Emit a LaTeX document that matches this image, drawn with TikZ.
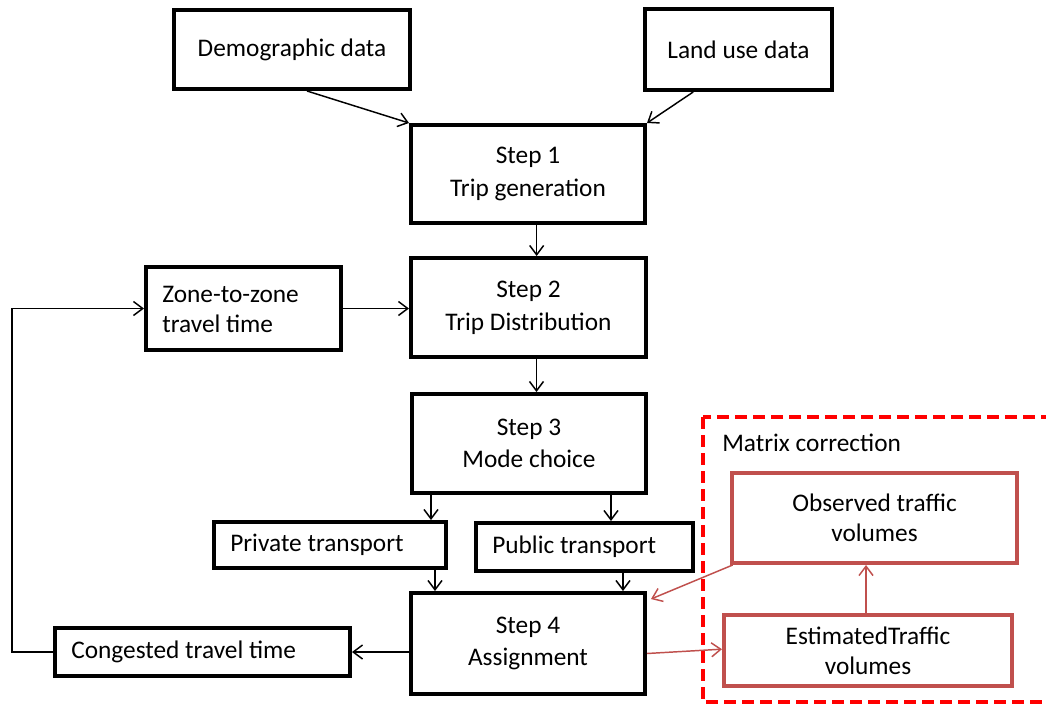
\documentclass[tikz,border=0pt]{standalone}
\usepackage{fontspec}
\setmainfont{Carlito}
\usetikzlibrary{arrows.meta}
\definecolor{boxred}{RGB}{192,80,77}
\definecolor{dashred}{RGB}{255,0,0}
\begin{document}
\begin{tikzpicture}[x=0.75pt,y=-0.75pt,
  box/.style={draw=black, line width=3pt, fill=white, font=\fontsize{19}{22.5}\selectfont, align=center, inner sep=0pt},
  stepbox/.style={box, font=\fontsize{19}{24.5}\selectfont},
  redbox/.style={box, draw=boxred},
  arr/.style={draw=black, line width=1.1pt, -{Straight Barb[length=7pt,width=10.5pt]}},
  redarr/.style={arr, draw=boxred},
  frame/.style={draw=dashred, line width=2.6pt, dash pattern=on 9pt off 4.5pt},
  lbl/.style={font=\fontsize{19}{22.5}\selectfont, inner sep=0pt, align=left, anchor=west}
]
\clip (0,0) rectangle (1046,704);
\fill[white] (0,0) rectangle (1046,704);

% matrix correction frame
\draw[frame] (703,417) rectangle (1070,702);
\node[lbl] (mc) at (722,443) {Matrix correction};

% nodes
\node[box, minimum width=177pt, minimum height=59.25pt] (demo) at (292,49.5) {Demographic data};
\node[box, minimum width=140.25pt, minimum height=60.75pt] (land) at (738.5,49.5) {Land use data};
\node[stepbox, minimum width=175.5pt, minimum height=73.5pt] (s1) at (528,174) {Step 1\\Trip generation};
\node[stepbox, minimum width=176.25pt, minimum height=74.25pt] (s2) at (528.5,307.5) {Step 2\\Trip Distribution};
\node[stepbox, minimum width=175.5pt, minimum height=74.25pt] (s3) at (529,443.5) {Step 3\\Mode choice};
\node[stepbox, minimum width=175.5pt, minimum height=75.75pt] (s4) at (528,643.5) {Step 4\\Assignment};
\node[box, minimum width=146.25pt, minimum height=62.25pt] (zone) at (243.5,308.5) {};
\node[lbl] (zonet) at ([xshift=13.5pt,yshift=-0.5pt]zone.west) {Zone-to-zone\\travel time};
\node[box, minimum width=174pt, minimum height=34.5pt] (priv) at (330,545) {};
\node[lbl] (privt) at ([xshift=13.5pt]priv.west) {Private transport};
\node[box, minimum width=162.75pt, minimum height=36pt] (pub) at (584.5,547) {};
\node[lbl] (pubt) at ([xshift=13.5pt]pub.west) {Public transport};
\node[box, minimum width=221.25pt, minimum height=36pt] (cong) at (202.5,652) {};
\node[lbl] (congt) at ([xshift=13.5pt]cong.west) {Congested travel time};
\node[redbox, minimum width=213.75pt, minimum height=67.5pt] (obs) at (874.5,518) {Observed traffic\\volumes};
\node[redbox, minimum width=216pt, minimum height=53.25pt] (est) at (868,650.5) {EstimatedTraffic\\volumes};

% black connectors
\draw[arr] ([xshift=11.25pt]demo.south) -- (s1.north west);
\draw[arr] ([xshift=-34pt]land.south) -- (s1.north east);
\draw[arr] ([xshift=6.5pt]s1.south) -- ([xshift=6.5pt]s1.south |- s2.north);
\draw[arr] ([xshift=6pt]s2.south) -- ([xshift=6pt]s2.south |- s3.north);
\draw[arr] (zone.east) -- (zone.east -| s2.west);
\draw[arr] ([xshift=15.75pt]s3.south west) -- ([xshift=15.75pt]s3.south west |- priv.north);
\draw[arr] ([xshift=-27.75pt]s3.south east) -- ([xshift=-27.75pt]s3.south east |- pub.north);
\draw[arr] ([xshift=-9.75pt]priv.south east) -- ([xshift=-9.75pt]priv.south east |- s4.north);
\draw[arr] ([xshift=-54pt]pub.south east) -- ([xshift=-54pt]pub.south east |- s4.north);
\draw[arr] (s4.west |- cong.east) -- (cong.east);
\coordinate (loop) at (12,652);
\draw[arr] (cong.west) -- (loop) |- (zone.west);

% red connectors
\draw[redarr] ([xshift=2pt]obs.south west) -- ([xshift=3pt,yshift=-6pt]s4.north east);
\draw[redarr] ([yshift=-7.5pt]s4.east) -- ([yshift=1pt]est.west);
\draw[redarr] ([xshift=-1.5pt]est.north) -- ([xshift=-1.5pt]est.north |- obs.south);
\end{tikzpicture}
\end{document}
